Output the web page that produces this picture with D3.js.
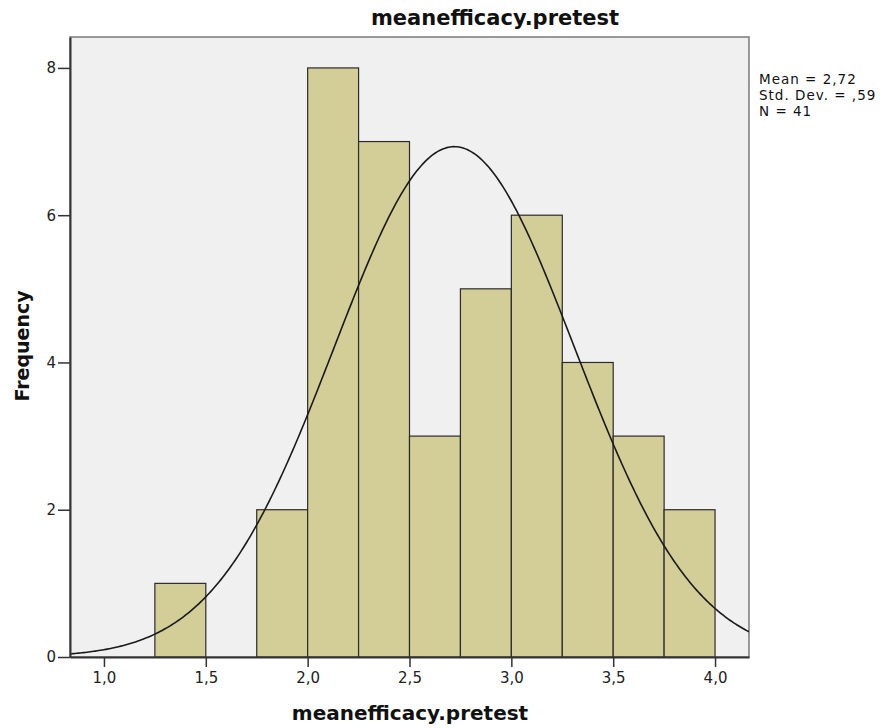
<!DOCTYPE html>
<html>
<head>
<meta charset="utf-8">
<script src="https://cdn.jsdelivr.net/npm/d3@7"></script>
<style>
  html, body { margin: 0; padding: 0; background: #ffffff; }
  svg { display: block; }
  text { font-family: "DejaVu Sans", Verdana, sans-serif; }
</style>
</head>
<body>
<svg id="chart" width="880" height="728"></svg>
<script>
// ---- Data ----
const binStarts = [1.25, 1.50, 1.75, 2.00, 2.25, 2.50, 2.75, 3.00, 3.25, 3.50, 3.75];
const binCounts = [1, 0, 2, 8, 7, 3, 5, 6, 4, 3, 2];
const binWidth = 0.25;
const xTicks = [1.0, 1.5, 2.0, 2.5, 3.0, 3.5, 4.0];
const yTicks = [0, 2, 4, 6, 8];
const statLabels = ["Mean = 2,72", "Std. Dev. = ,59", "N = 41"];
const meanVal = 2.72;
const sdVal = 0.59;
const nVal = 41;
const chartTitle = "meanefficacy.pretest";
const xTitle = "meanefficacy.pretest";
const yTitle = "Frequency";

// ---- Layout ----
const svg = d3.select("#chart");
const pL = 70, pR = 749, pT = 37, pB = 657;

const x = d3.scaleLinear().domain([0.8333, 4.1667]).range([pL, pR]);
const y = d3.scaleLinear().domain([0, 8.42]).range([pB, pT]);

// plot background
svg.append("rect")
  .attr("x", pL).attr("y", pT)
  .attr("width", pR - pL).attr("height", pB - pT)
  .attr("fill", "#f0f0f0")
  .attr("stroke", "#7a7a7a").attr("stroke-width", 1.5);

// bars
svg.append("g").selectAll("rect")
  .data(binStarts.map((s, i) => ({ s, c: binCounts[i] })).filter(d => d.c > 0))
  .join("rect")
  .attr("x", d => x(d.s))
  .attr("y", d => y(d.c))
  .attr("width", d => x(d.s + binWidth) - x(d.s))
  .attr("height", d => y(0) - y(d.c))
  .attr("fill", "#d3ce97")
  .attr("stroke", "#2b2b2b")
  .attr("stroke-width", 1.2);

// normal curve
svg.append("clipPath").attr("id", "clip").append("rect")
  .attr("x", pL).attr("y", pT).attr("width", pR - pL).attr("height", pB - pT);
const scale = nVal * binWidth;
const pdf = v => scale * Math.exp(-0.5 * ((v - meanVal) / sdVal) ** 2) / (sdVal * Math.sqrt(2 * Math.PI));
const curvePts = d3.range(0, 401).map(i => {
  const v = x.domain()[0] + (x.domain()[1] - x.domain()[0]) * i / 400;
  return [v, pdf(v)];
});
svg.append("path")
  .datum(curvePts)
  .attr("clip-path", "url(#clip)")
  .attr("fill", "none")
  .attr("stroke", "#1a1a1a")
  .attr("stroke-width", 1.6)
  .attr("d", d3.line().x(d => x(d[0])).y(d => y(d[1])));

// axes
const fmt = d => d3.format(".1f")(d).replace(".", ",");
const xAxis = svg.append("g")
  .attr("transform", `translate(0,${pB})`)
  .call(d3.axisBottom(x).tickValues(xTicks).tickFormat(fmt)
    .tickSizeInner(10).tickSizeOuter(0).tickPadding(5));
const yAxis = svg.append("g")
  .attr("transform", `translate(${pL},0)`)
  .call(d3.axisLeft(y).tickValues(yTicks).tickFormat(d3.format("d"))
    .tickSizeInner(12).tickSizeOuter(0).tickPadding(2));
[xAxis, yAxis].forEach(g => {
  g.select(".domain").attr("stroke", "#333").attr("stroke-width", 2);
  g.selectAll(".tick line").attr("stroke", "#333").attr("stroke-width", 1.5);
  g.selectAll(".tick text").attr("font-size", 15).attr("fill", "#222")
    .attr("font-family", "'DejaVu Sans', Verdana, sans-serif");
});

// title
svg.append("text")
  .attr("x", 495).attr("y", 25)
  .attr("text-anchor", "middle")
  .attr("font-size", 21).attr("font-weight", "bold").attr("fill", "#111")
  .text(chartTitle);

// axis titles
svg.append("text")
  .attr("x", 410).attr("y", 720)
  .attr("text-anchor", "middle")
  .attr("font-size", 20).attr("font-weight", "bold").attr("fill", "#111")
  .text(xTitle);
svg.append("text")
  .attr("transform", "translate(29,346) rotate(-90)")
  .attr("text-anchor", "middle")
  .attr("font-size", 19).attr("font-weight", "bold").attr("fill", "#111")
  .text(yTitle);

// stats legend
svg.append("g").selectAll("text")
  .data(statLabels)
  .join("text")
  .attr("x", 759)
  .attr("y", (d, i) => 84 + i * 16)
  .attr("font-size", 13.5).attr("letter-spacing", 1).attr("fill", "#111")
  .text(d => d);
</script>
</body>
</html>
